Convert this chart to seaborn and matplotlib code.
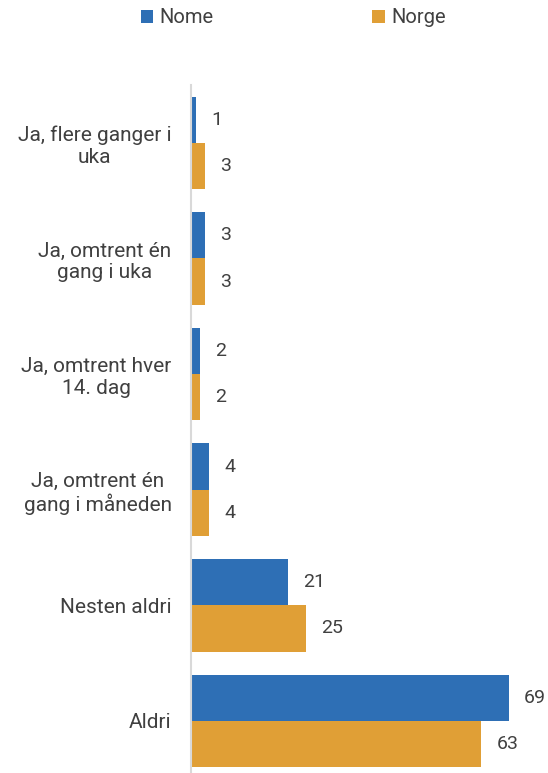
import matplotlib
matplotlib.use("Agg")
import matplotlib.pyplot as plt
import seaborn as sns
import pandas as pd
from matplotlib.patches import Patch

categories = [
    "Ja, flere ganger i\nuka",
    "Ja, omtrent én\ngang i uka",
    "Ja, omtrent hver\n14. dag",
    "Ja, omtrent én\ngang i måneden",
    "Nesten aldri",
    "Aldri",
]
series_names = ["Nome", "Norge"]
nome_values = [1, 3, 2, 4, 21, 69]
norge_values = [3, 3, 2, 4, 25, 63]
colors = ["#2E6FB5", "#E09F36"]

df = pd.DataFrame({
    "kategori": categories * 2,
    "serie": [series_names[0]] * len(categories) + [series_names[1]] * len(categories),
    "verdi": nome_values + norge_values,
})

sns.set_theme(style="white")
plt.rcParams["font.family"] = ["Roboto", "DejaVu Sans"]
text_color = "#404040"

fig = plt.figure(figsize=(5.48, 7.73), dpi=100)
ax = fig.add_axes([191 / 548, 0.0, 1 - 191 / 548, 1 - 85 / 773])

sns.barplot(data=df, x="verdi", y="kategori", hue="serie", order=categories,
            hue_order=series_names, palette=colors, orient="h", width=0.8,
            saturation=1, linewidth=0, ax=ax, legend=False)

for container in ax.containers:
    ax.bar_label(container, labels=[f"{int(v)}" for v in container.datavalues],
                 padding=11, fontsize=14, color=text_color)

ax.set_xlim(0, 77.5)
ax.set_ylim(5.45, -0.5)
ax.set_xlabel("")
ax.set_ylabel("")
ax.set_xticks([])
ax.tick_params(axis="y", length=0, pad=14)
for lbl in ax.get_yticklabels():
    lbl.set_fontsize(15)
    lbl.set_color(text_color)
    lbl.set_multialignment("center")

for side in ["top", "right", "bottom"]:
    ax.spines[side].set_visible(False)
ax.spines["left"].set_color("#D9D9D9")
ax.spines["left"].set_linewidth(1.5)

handles = [Patch(facecolor=c, edgecolor="none") for c in colors]
fig.legend(handles, series_names, loc="center", bbox_to_anchor=(0.535, 0.977),
           ncol=2, frameon=False, fontsize=14.5, handlelength=0.63, handleheight=0.63,
           handletextpad=0.3, columnspacing=7.9, labelcolor=text_color)

fig.savefig("out.png", dpi=100)
